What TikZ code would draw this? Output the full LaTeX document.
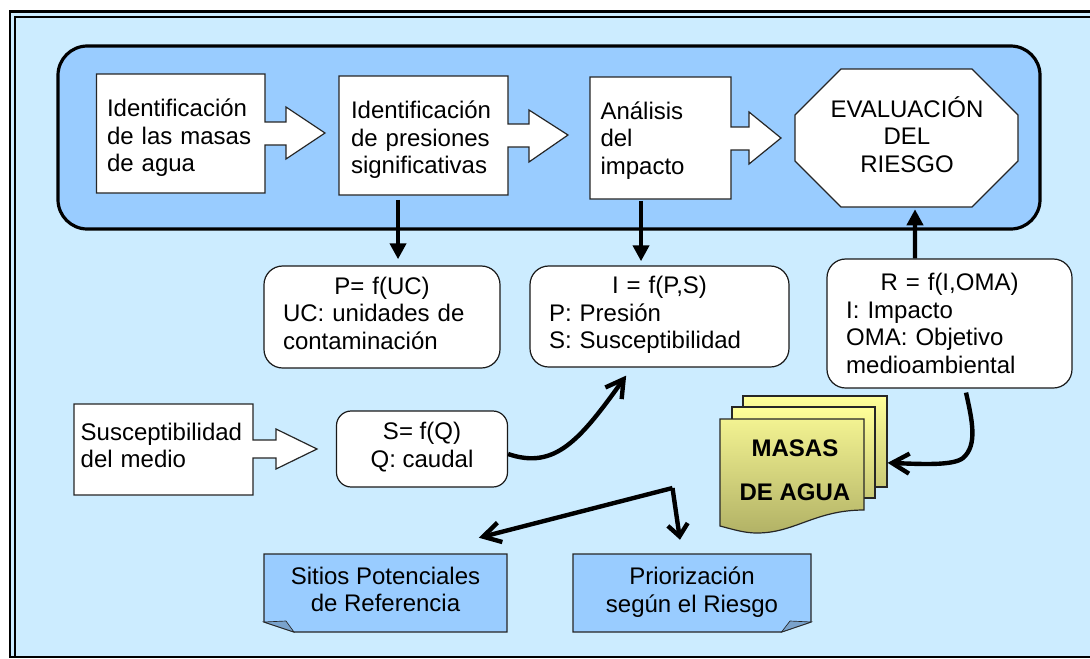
\documentclass[tikz,border=0pt]{standalone}
\usepackage{xcolor}
\usepackage{fontspec}
\setmainfont{Liberation Sans}
\usetikzlibrary{arrows.meta, positioning, calc}
\definecolor{framefill}{HTML}{CCECFF}
\definecolor{bandblue}{HTML}{99CCFF}
\definecolor{flapblue}{HTML}{7AA3CC}
\definecolor{pageyellow}{HTML}{FFFF99}
\definecolor{pageolive}{HTML}{B2B266}
\tikzset{
  labeltext/.style={inner sep=0pt, font=\fontsize{18}{20.6}\selectfont},
  stepbox/.style={labeltext, align=left},
  formulabox/.style={labeltext, draw=black!90, fill=white, rounded corners=14pt, line width=0.9pt, align=center},
  shapeline/.style={draw=black!85, fill=white, line width=0.9pt},
  thickline/.style={black, line width=3.3pt},
  openhead/.style={thickline, -{Straight Barb[length=#1,width=15pt,line width=3.3pt]}},
  openhead/.default=13pt,
  solidhead/.style={thickline, -{Triangle[length=12pt,width=12pt]}},
  notebox/.style={draw=black!85, fill=bandblue, line width=0.9pt},
  flap/.style={draw=black!85, fill=flapblue, line width=0.5pt},
  pagebox/.style={draw=black!85, line width=0.9pt, inner sep=0pt, top color=pageyellow, bottom color=pageolive!70!pageyellow},
}
\begin{document}
\begin{tikzpicture}[x=0.75pt, y=-0.75pt]
  \useasboundingbox (0,0) rectangle (1090,658);
  % Outer frame
  \fill[white] (0,0) rectangle (1090,658);
  \fill[framefill] (10,11.7) rectangle (1090,657);
  \draw[black, line width=2.2pt] (1090,11.7) -- (10,11.7) -- (10,657) -- (1090,657);
  \draw[black, line width=1.5pt] (1090,16.7) -- (14.5,16.7) -- (14.5,657);

  % Top band
  \draw[black, line width=2.4pt, fill=bandblue, rounded corners=22pt] (58,46) rectangle (1040,229);

  % Process steps with their block arrows
  \draw[shapeline] (96.5,74) -- (265,74) -- (265,122) -- (286,122) -- (286,107) -- (325,133) -- (286,159) -- (286,145) -- (265,145) -- (265,193) -- (96.5,193) -- cycle;
  \node[stepbox, text width=111pt] (masas) at (181,138) {Identificación\\de las masas\\de agua};
  \draw[shapeline] (339,76) -- (508,76) -- (508,124) -- (529,124) -- (529,110) -- (568,135) -- (529,162) -- (529,147) -- (508,147) -- (508,195) -- (339,195) -- cycle;
  \node[stepbox, text width=108.75pt, minimum height=89.25pt] (presiones) at (423.5,140) {Identificación\\de presiones\\significativas};
  \draw[shapeline] (590,77) -- (731,77) -- (731,127) -- (749,127) -- (749,112) -- (781,138) -- (749,164) -- (749,150) -- (731,150) -- (731,199) -- (590,199) -- cycle;
  \node[stepbox, text width=90pt, minimum height=90pt] (analisis) at (660.5,140.5) {Análisis\\del\\impacto};
  \draw[shapeline] (841,69) -- (972,69) -- (1018,115) -- (1018,161) -- (972,207) -- (841,207) -- (795,161) -- (795,115) -- cycle;
  \node[labeltext, align=center, minimum height=108.75pt] (riesgo) at (907,134.5) {EVALUACIÓN\\DEL\\RIESGO};

  % Formula boxes
  \node[formulabox, minimum width=177pt, minimum height=76.5pt, text width=148.5pt, align=left] (presion) at (382,317) {\makebox[148.5pt]{P= f(UC)}\\UC: unidades de\\contaminación\rule[-6pt]{0pt}{6pt}};
  \node[formulabox, minimum width=194.25pt, minimum height=75.75pt, text width=165.75pt, align=left] (impacto) at (659.5,316.5) {\makebox[165.75pt]{I = f(P,S)}\\P: Presión\\S: Susceptibilidad\rule[-6pt]{0pt}{6pt}};
  \node[formulabox, minimum width=183.75pt, minimum height=96.75pt, text width=155pt, align=left] (oma) at (949.5,323.5) {\makebox[155pt]{R = f(I,OMA)}\\I: Impacto\\OMA: Objetivo\\medioambiental};

  % Susceptibility row
  \draw[shapeline] (74,404) -- (253,404) -- (253,440) -- (276,440) -- (276,429) -- (317,449) -- (276,469) -- (276,458) -- (253,458) -- (253,495) -- (74,495) -- cycle;
  \node[stepbox, text width=125pt] (medio) at (164,445.5) {Susceptibilidad\\del medio};
  \node[formulabox, minimum width=128.25pt, minimum height=57pt, rounded corners=11pt] (caudal) at (422,449) {S= f(Q)\\Q: caudal\rule[-6pt]{0pt}{6pt}};

  % Stacked pages
  \node[pagebox, minimum width=108pt, minimum height=68.25pt] (pagina) at (815,441.5) {};
  \node[pagebox, minimum width=107.25pt, minimum height=68.25pt] (paginados) at (803.5,452.5) {};
  \draw[pagebox, bottom color=pageolive, top color=pageyellow!95!black] (720,419) -- (864,419) -- (864,510) .. controls (815,510) and (795,533) .. (757,533) .. controls (745,533) and (735,530) .. (720,526) -- cycle;
  \node[labeltext, font=\fontsize{18}{20.6}\bfseries\selectfont, align=center] (hojas) at (795,470) {MASAS\\[12.8pt]DE AGUA};

  % Output notes
  \draw[notebox] (264,554) -- (507,554) -- (507,632) -- (294,632) -- (264,622) -- cycle;
  \draw[flap] (264,622) -- (286,621) -- (294,632) -- cycle;
  \node[labeltext, align=center, minimum height=53.25pt] (sitios) at (385.5,589.5) {Sitios Potenciales\\de Referencia};
  \draw[notebox] (573,554) -- (811,554) -- (811,622) -- (781.5,632) -- (573,632) -- cycle;
  \draw[flap] (811,622) -- (790,621) -- (781.5,632) -- cycle;
  \node[labeltext, align=center, minimum height=55.5pt] (prior) at (692,592) {Priorización\\según el Riesgo};
  \coordinate (branch) at (672.5,488);

  % Connectors
  \draw[solidhead] ([xshift=-19.1pt]presiones.south) -- ++(0,59.5);
  \draw[solidhead] ([xshift=-14.6pt]analisis.south) -- ++(0,60.5);
  \draw[solidhead] ([xshift=-25.9pt]oma.north) -- ([xshift=6pt,yshift=-1.5pt]riesgo.south);
  \draw[openhead] ([yshift=-3.75pt]caudal.east) .. controls (555,470) and (580,440) .. ([xshift=-25pt,yshift=-6pt]impacto.south);
  \draw[openhead] ([xshift=12.4pt,yshift=-3pt]oma.south) .. controls (972,420) and (978,445) .. (963,458) .. controls (953,466) and (920,464) .. ([yshift=-16pt]pagina.east);
  \draw[openhead] (branch) -- ([xshift=70pt,yshift=12pt]sitios.north);
  \draw[openhead=9pt] (branch) -- ([xshift=-9pt,yshift=11.25pt]prior.north);
\end{tikzpicture}
\end{document}
